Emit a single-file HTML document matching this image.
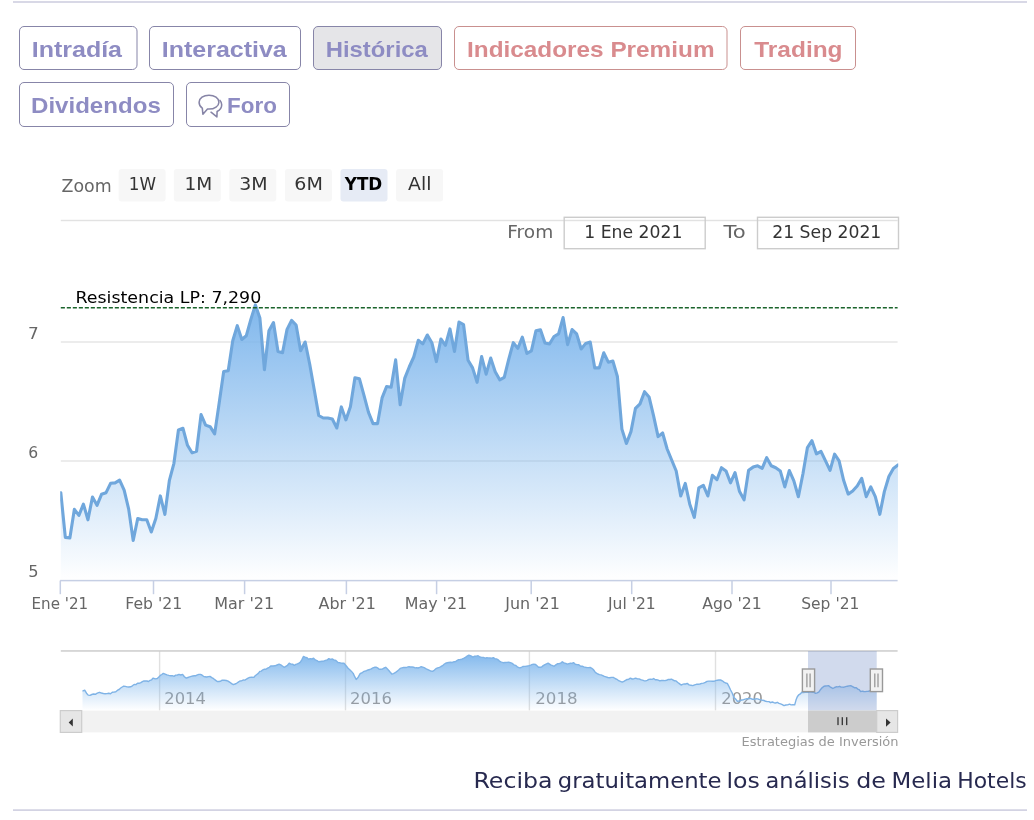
<!DOCTYPE html>
<html lang="es"><head><meta charset="utf-8"><title>Melia Hotels - Histórica</title>
<style>
html,body{margin:0;padding:0;background:#fff;}
body{width:1034px;height:820px;overflow:hidden;font-family:"Liberation Sans",sans-serif;}
svg{display:block;}
.pb{font-family:"Liberation Sans",sans-serif;font-weight:700;}
.hc{font-family:"DejaVu Sans","Liberation Sans",sans-serif;}
.pp{font-family:"DejaVu Sans","Liberation Sans",sans-serif;}
</style></head><body>
<svg width="1034" height="820" viewBox="0 0 1034 820">
<defs>
<linearGradient id="ga" gradientUnits="userSpaceOnUse" x1="0" y1="295" x2="0" y2="580.6"><stop offset="0" stop-color="#7cb5ec" stop-opacity="1"/><stop offset="1" stop-color="#7cb5ec" stop-opacity="0"/></linearGradient>
<linearGradient id="gn" gradientUnits="userSpaceOnUse" x1="0" y1="651" x2="0" y2="710.5"><stop offset="0" stop-color="#7cb5ec" stop-opacity="1"/><stop offset="1" stop-color="#7cb5ec" stop-opacity="0"/></linearGradient>
<clipPath id="cp"><rect x="60.199999999999996" y="262" width="838" height="318.6"/></clipPath>
</defs>
<rect x="0" y="0" width="1034" height="820" fill="#ffffff"/>
<rect x="13" y="1.2" width="1014" height="1.6" fill="#cfcfe0"/>
<rect x="13" y="809.3" width="1014" height="1.6" fill="#cfcfe0"/>
<rect x="19.5" y="26.5" width="117.5" height="43" rx="4.5" ry="4.5" fill="#ffffff" stroke="#8785a8" stroke-width="1"/>
<text class="pb" x="31.75" y="56.6" font-size="22.6" font-weight="700" fill="#8e8cc3" textLength="90.28" lengthAdjust="spacingAndGlyphs">Intradía</text>
<rect x="149.5" y="26.5" width="151" height="43" rx="4.5" ry="4.5" fill="#ffffff" stroke="#8785a8" stroke-width="1"/>
<text class="pb" x="161.75" y="56.6" font-size="22.6" font-weight="700" fill="#8e8cc3" textLength="125.02" lengthAdjust="spacingAndGlyphs">Interactiva</text>
<rect x="313.5" y="26.5" width="128" height="43" rx="4.5" ry="4.5" fill="#e5e5e8" stroke="#8785a8" stroke-width="1"/>
<text class="pb" x="325.75" y="56.6" font-size="22.6" font-weight="700" fill="#8e8cc3" textLength="102.02" lengthAdjust="spacingAndGlyphs">Histórica</text>
<rect x="454.5" y="26.5" width="272.5" height="43" rx="4.5" ry="4.5" fill="#ffffff" stroke="#c9908f" stroke-width="1"/>
<text class="pb" x="467" y="56.6" font-size="22.6" font-weight="700" fill="#d98b8e" textLength="247.54" lengthAdjust="spacingAndGlyphs">Indicadores Premium</text>
<rect x="740.5" y="26.5" width="115" height="43" rx="4.5" ry="4.5" fill="#ffffff" stroke="#c9908f" stroke-width="1"/>
<text class="pb" x="754.25" y="56.6" font-size="22.6" font-weight="700" fill="#d98b8e" textLength="88.29" lengthAdjust="spacingAndGlyphs">Trading</text>
<rect x="19.5" y="82.5" width="154" height="44" rx="4.5" ry="4.5" fill="#ffffff" stroke="#8785a8" stroke-width="1"/>
<text class="pb" x="31" y="112.6" font-size="22.6" font-weight="700" fill="#8e8cc3" textLength="129.8" lengthAdjust="spacingAndGlyphs">Dividendos</text>
<rect x="186.5" y="82.5" width="103" height="44" rx="4.5" ry="4.5" fill="#ffffff" stroke="#8785a8" stroke-width="1"/>
<text class="pb" x="227" y="112.6" font-size="22.6" font-weight="700" fill="#8e8cc3" textLength="49.86" lengthAdjust="spacingAndGlyphs">Foro</text>
<g fill="none" stroke="#8684a6" stroke-width="1.55" stroke-linejoin="round" stroke-linecap="round">
<path d="M209 95.2c5.5 0 9.9 3.1 9.9 6.95s-4.4 6.95-9.9 6.95c-.5 0-1 0-1.5-.1l-4.6 5.2-.6-6.1c-2-1.3-3.2-3.5-3.2-5.950c0-3.850 4.4-6.950 9.900-6.950z"/>
<path d="M220 100.400c1.100 1.200 1.700 2.700 1.700 4.300c0 2.900-1.800 5.400-4.600 6.800l-.2 5.400-5.900-4.700"/>
</g>
<g class="hc">
<text x="61.5" y="192" font-size="17.3" fill="#666666" textLength="50.1" lengthAdjust="spacingAndGlyphs">Zoom</text>
<rect x="118.6" y="169" width="47" height="32.5" rx="3" ry="3" fill="#f7f7f7"/>
<text x="128.75" y="189.5" font-size="17.3" fill="#333333" textLength="27.23" lengthAdjust="spacingAndGlyphs">1W</text>
<rect x="173.8" y="169" width="47" height="32.5" rx="3" ry="3" fill="#f7f7f7"/>
<text x="184.5" y="189.5" font-size="17.3" fill="#333333" textLength="27.76" lengthAdjust="spacingAndGlyphs">1M</text>
<rect x="229.3" y="169" width="47" height="32.5" rx="3" ry="3" fill="#f7f7f7"/>
<text x="239.25" y="189.5" font-size="17.3" fill="#333333" textLength="28.37" lengthAdjust="spacingAndGlyphs">3M</text>
<rect x="284.9" y="169" width="47" height="32.5" rx="3" ry="3" fill="#f7f7f7"/>
<text x="294.25" y="189.5" font-size="17.3" fill="#333333" textLength="28.58" lengthAdjust="spacingAndGlyphs">6M</text>
<rect x="340.5" y="169" width="47" height="32.5" rx="3" ry="3" fill="#e6ebf5"/>
<text x="344.75" y="189.5" font-size="17.3" font-weight="700" fill="#000000" textLength="37.51" lengthAdjust="spacingAndGlyphs">YTD</text>
<rect x="396.1" y="169" width="47" height="32.5" rx="3" ry="3" fill="#f7f7f7"/>
<text x="408" y="189.5" font-size="17.3" fill="#333333" textLength="23.41" lengthAdjust="spacingAndGlyphs">All</text>
<rect x="60.8" y="219.8" width="836.8" height="1.4" fill="#e2e2e2"/>
<text x="507.25" y="237.9" font-size="17.3" fill="#666666" textLength="45.98" lengthAdjust="spacingAndGlyphs">From</text>
<rect x="564.2" y="217.3" width="141" height="31.4" fill="none" stroke="#cccccc" stroke-width="1.4"/>
<text x="584.25" y="237.9" font-size="17.3" fill="#333333" textLength="98.12" lengthAdjust="spacingAndGlyphs">1 Ene 2021</text>
<text x="723.5" y="237.9" font-size="17.3" fill="#666666" textLength="22.3" lengthAdjust="spacingAndGlyphs">To</text>
<rect x="757.5" y="217.3" width="141" height="31.4" fill="none" stroke="#cccccc" stroke-width="1.4"/>
<text x="772.25" y="237.9" font-size="17.3" fill="#333333" textLength="109.07" lengthAdjust="spacingAndGlyphs">21 Sep 2021</text>
<rect x="60.8" y="341.25" width="836.8" height="1.5" fill="#e6e6e6"/>
<rect x="60.8" y="460.25" width="836.8" height="1.5" fill="#e6e6e6"/>
<text x="28" y="338.7" font-size="15.8" fill="#666666" textLength="10.69" lengthAdjust="spacingAndGlyphs">7</text>
<text x="28.25" y="457.7" font-size="15.8" fill="#666666" textLength="9.93" lengthAdjust="spacingAndGlyphs">6</text>
<text x="28.25" y="576.7" font-size="15.8" fill="#666666" textLength="10.35" lengthAdjust="spacingAndGlyphs">5</text>
<g clip-path="url(#cp)">
<path d="M60.8 492.7 L65.33 537.4 L69.85 538 L74.38 509.3 L78.9 515.4 L83.42 504.1 L87.95 519.8 L92.47 497.1 L97 505.3 L101.53 494.3 L106.05 492.7 L110.58 483.3 L115.1 482.9 L119.62 480.2 L124.15 490.2 L128.68 509.1 L133.2 540.5 L137.73 518.5 L142.25 519.8 L146.78 519.8 L151.3 532 L155.82 518.5 L160.35 495.9 L164.88 514.4 L169.4 480.3 L173.93 463.3 L178.45 429.9 L182.98 428.3 L187.5 445.3 L192.03 452.8 L196.55 451.3 L201.07 414.5 L205.6 425.1 L210.12 426.7 L214.65 433.9 L219.18 403 L223.7 371.5 L228.23 370.7 L232.75 340.7 L237.28 325.7 L241.8 339.5 L246.32 335.7 L250.85 319.4 L255.38 304.9 L259.9 318.1 L264.43 369.7 L268.95 330.7 L273.48 322.5 L278 351.4 L282.53 352.7 L287.05 329.4 L291.57 320.4 L296.1 325 L300.62 350.8 L305.15 342 L309.68 364 L314.2 389.4 L318.73 415.5 L323.25 418 L327.78 418 L332.3 419 L336.83 428 L341.35 406.9 L345.88 419.9 L350.4 406.7 L354.93 377.7 L359.45 378.8 L363.98 395.3 L368.5 412.3 L373.03 423.6 L377.55 423.6 L382.08 397.9 L386.6 386.5 L391.13 387.2 L395.65 359.9 L400.18 404.8 L404.7 378.4 L409.23 367 L413.75 357 L418.28 340.3 L422.8 343.9 L427.33 335 L431.85 342.7 L436.38 361.6 L440.9 339 L445.43 345.3 L449.95 328.9 L454.48 351.5 L459 322 L463.53 324.5 L468.05 360.3 L472.58 367.9 L477.1 382.3 L481.63 356.6 L486.15 374.2 L490.68 358.1 L495.2 371.7 L499.73 379.8 L504.25 377.3 L508.78 359.1 L513.3 342.7 L517.83 348.4 L522.35 337.1 L526.88 353.4 L531.4 350.9 L535.93 330.8 L540.45 329.7 L544.98 343 L549.5 344 L554.02 336.5 L558.55 333.9 L563.08 317.6 L567.6 344.6 L572.12 329.5 L576.65 333.9 L581.17 349 L585.7 343.4 L590.23 342.1 L594.75 367.9 L599.27 367.9 L603.8 352.8 L608.33 362.2 L612.85 361 L617.38 376.5 L621.9 429.1 L626.42 443.5 L630.95 431.6 L635.48 408.3 L640 403.9 L644.52 391.7 L649.05 396.9 L653.58 415.9 L658.1 436.6 L662.62 433 L667.15 449 L671.67 460 L676.2 471 L680.73 496 L685.25 483.4 L689.77 504.2 L694.3 517.4 L698.83 487.8 L703.35 485.3 L707.88 496 L712.4 475.3 L716.92 479.7 L721.45 467.7 L725.98 470.9 L730.5 482.8 L735.02 472.7 L739.55 491.6 L744.08 499.8 L748.6 470.2 L753.12 467.1 L757.65 465.8 L762.17 468.3 L766.7 457.7 L771.23 465.8 L775.75 467.7 L780.27 470.9 L784.8 486.9 L789.33 470.5 L793.85 480.9 L798.38 496.7 L802.9 474 L807.43 447.6 L811.95 440.7 L816.48 453.9 L821 451.4 L825.52 460.8 L830.05 470.3 L834.58 454.2 L839.1 460.8 L843.62 480.3 L848.15 494.1 L852.68 491 L857.2 486 L861.73 478.4 L866.25 496.7 L870.77 486.9 L875.3 496.7 L879.83 514.3 L884.35 491.6 L888.88 476.5 L893.4 468.4 L897.93 465 L897.93 580.6 L60.8 580.6 Z" fill="url(#ga)" stroke="none"/>
<path d="M60.8 492.7 L65.33 537.4 L69.85 538 L74.38 509.3 L78.9 515.4 L83.42 504.1 L87.95 519.8 L92.47 497.1 L97 505.3 L101.53 494.3 L106.05 492.7 L110.58 483.3 L115.1 482.9 L119.62 480.2 L124.15 490.2 L128.68 509.1 L133.2 540.5 L137.73 518.5 L142.25 519.8 L146.78 519.8 L151.3 532 L155.82 518.5 L160.35 495.9 L164.88 514.4 L169.4 480.3 L173.93 463.3 L178.45 429.9 L182.98 428.3 L187.5 445.3 L192.03 452.8 L196.55 451.3 L201.07 414.5 L205.6 425.1 L210.12 426.7 L214.65 433.9 L219.18 403 L223.7 371.5 L228.23 370.7 L232.75 340.7 L237.28 325.7 L241.8 339.5 L246.32 335.7 L250.85 319.4 L255.38 304.9 L259.9 318.1 L264.43 369.7 L268.95 330.7 L273.48 322.5 L278 351.4 L282.53 352.7 L287.05 329.4 L291.57 320.4 L296.1 325 L300.62 350.8 L305.15 342 L309.68 364 L314.2 389.4 L318.73 415.5 L323.25 418 L327.78 418 L332.3 419 L336.83 428 L341.35 406.9 L345.88 419.9 L350.4 406.7 L354.93 377.7 L359.45 378.8 L363.98 395.3 L368.5 412.3 L373.03 423.6 L377.55 423.6 L382.08 397.9 L386.6 386.5 L391.13 387.2 L395.65 359.9 L400.18 404.8 L404.7 378.4 L409.23 367 L413.75 357 L418.28 340.3 L422.8 343.9 L427.33 335 L431.85 342.7 L436.38 361.6 L440.9 339 L445.43 345.3 L449.95 328.9 L454.48 351.5 L459 322 L463.53 324.5 L468.05 360.3 L472.58 367.9 L477.1 382.3 L481.63 356.6 L486.15 374.2 L490.68 358.1 L495.2 371.7 L499.73 379.8 L504.25 377.3 L508.78 359.1 L513.3 342.7 L517.83 348.4 L522.35 337.1 L526.88 353.4 L531.4 350.9 L535.93 330.8 L540.45 329.7 L544.98 343 L549.5 344 L554.02 336.5 L558.55 333.9 L563.08 317.6 L567.6 344.6 L572.12 329.5 L576.65 333.9 L581.17 349 L585.7 343.4 L590.23 342.1 L594.75 367.9 L599.27 367.9 L603.8 352.8 L608.33 362.2 L612.85 361 L617.38 376.5 L621.9 429.1 L626.42 443.5 L630.95 431.6 L635.48 408.3 L640 403.9 L644.52 391.7 L649.05 396.9 L653.58 415.9 L658.1 436.6 L662.62 433 L667.15 449 L671.67 460 L676.2 471 L680.73 496 L685.25 483.4 L689.77 504.2 L694.3 517.4 L698.83 487.8 L703.35 485.3 L707.88 496 L712.4 475.3 L716.92 479.7 L721.45 467.7 L725.98 470.9 L730.5 482.8 L735.02 472.7 L739.55 491.6 L744.08 499.8 L748.6 470.2 L753.12 467.1 L757.65 465.8 L762.17 468.3 L766.7 457.7 L771.23 465.8 L775.75 467.7 L780.27 470.9 L784.8 486.9 L789.33 470.5 L793.85 480.9 L798.38 496.7 L802.9 474 L807.43 447.6 L811.95 440.7 L816.48 453.9 L821 451.4 L825.52 460.8 L830.05 470.3 L834.58 454.2 L839.1 460.8 L843.62 480.3 L848.15 494.1 L852.68 491 L857.2 486 L861.73 478.4 L866.25 496.7 L870.77 486.9 L875.3 496.7 L879.83 514.3 L884.35 491.6 L888.88 476.5 L893.4 468.4 L897.93 465" fill="none" stroke="#70a7dc" stroke-width="3.1" stroke-linejoin="round" stroke-linecap="round"/>
</g>
<path d="M60.8 307.8H897.6" stroke="#1b642c" stroke-width="1.5" stroke-dasharray="4.1 1.9" fill="none"/>
<text x="75.5" y="302.6" font-size="16.4" fill="#000000" textLength="185.79" lengthAdjust="spacingAndGlyphs">Resistencia LP: 7,290</text>
<rect x="60.099999999999994" y="579.85" width="837.5" height="1.5" fill="#c6cfe4"/>
<rect x="59.55" y="580.6" width="1.5" height="13.6" fill="#c6cfe4"/>
<text x="31.5" y="609.4" font-size="15.8" fill="#666666" textLength="56.64" lengthAdjust="spacingAndGlyphs">Ene '21</text>
<rect x="152.75" y="580.6" width="1.5" height="13.6" fill="#c6cfe4"/>
<text x="125.25" y="609.4" font-size="15.8" fill="#666666" textLength="56.91" lengthAdjust="spacingAndGlyphs">Feb '21</text>
<rect x="243.85" y="580.6" width="1.5" height="13.6" fill="#c6cfe4"/>
<text x="214.25" y="609.4" font-size="15.8" fill="#666666" textLength="59.9" lengthAdjust="spacingAndGlyphs">Mar '21</text>
<rect x="345.65" y="580.6" width="1.5" height="13.6" fill="#c6cfe4"/>
<text x="318.5" y="609.4" font-size="15.8" fill="#666666" textLength="57.29" lengthAdjust="spacingAndGlyphs">Abr '21</text>
<rect x="435.85" y="580.6" width="1.5" height="13.6" fill="#c6cfe4"/>
<text x="404.75" y="609.4" font-size="15.8" fill="#666666" textLength="62.4" lengthAdjust="spacingAndGlyphs">May '21</text>
<rect x="530.45" y="580.6" width="1.5" height="13.6" fill="#c6cfe4"/>
<text x="505.25" y="609.4" font-size="15.8" fill="#666666" textLength="54.51" lengthAdjust="spacingAndGlyphs">Jun '21</text>
<rect x="630.95" y="580.6" width="1.5" height="13.6" fill="#c6cfe4"/>
<text x="608" y="609.4" font-size="15.8" fill="#666666" textLength="47.76" lengthAdjust="spacingAndGlyphs">Jul '21</text>
<rect x="731.25" y="580.6" width="1.5" height="13.6" fill="#c6cfe4"/>
<text x="702.25" y="609.4" font-size="15.8" fill="#666666" textLength="59.54" lengthAdjust="spacingAndGlyphs">Ago '21</text>
<rect x="830.25" y="580.6" width="1.5" height="13.6" fill="#c6cfe4"/>
<text x="801.25" y="609.4" font-size="15.8" fill="#666666" textLength="58.11" lengthAdjust="spacingAndGlyphs">Sep '21</text>
<rect x="158.9" y="651" width="1.4" height="59.5" fill="#e0e0e0"/>
<text x="164.25" y="704.4" font-size="15.6" fill="#999999" textLength="41.61" lengthAdjust="spacingAndGlyphs">2014</text>
<rect x="344.8" y="651" width="1.4" height="59.5" fill="#e0e0e0"/>
<text x="350" y="704.4" font-size="15.6" fill="#999999" textLength="41.87" lengthAdjust="spacingAndGlyphs">2016</text>
<rect x="528.7" y="651" width="1.4" height="59.5" fill="#e0e0e0"/>
<text x="535.25" y="704.4" font-size="15.6" fill="#999999" textLength="42.37" lengthAdjust="spacingAndGlyphs">2018</text>
<rect x="714.8" y="651" width="1.4" height="59.5" fill="#e0e0e0"/>
<text x="721.25" y="704.4" font-size="15.6" fill="#999999" textLength="41.62" lengthAdjust="spacingAndGlyphs">2020</text>
<path d="M82.5 691.1 L84.7 690.2 L86.5 693.2 L88.2 695.1 L90 695.4 L91.8 694.5 L93.5 694 L95.3 694.3 L97.3 693.1 L99.4 692.3 L101.4 693 L103.4 693.5 L105.2 693.7 L107 693.6 L108.7 693.3 L110.5 693.7 L112.3 692.3 L114 692.1 L115.8 691.8 L117.6 690.2 L119.1 689.5 L120.7 688 L122.2 687 L123.7 686.2 L125.4 686.4 L127.1 686.9 L128.8 687 L130.6 686.8 L132.4 685.8 L134.1 684.5 L135.9 684.6 L137.5 683.3 L139.1 683.3 L140.8 682.7 L142.4 681.7 L144 680.9 L145.5 681 L147 681 L148.5 681.5 L150.1 680.3 L151.6 679.8 L153.2 678.1 L155.2 678.9 L157.3 678.5 L158.8 677.1 L160.3 675.4 L161.8 674.5 L163.3 673.4 L165.1 674.1 L167 674.9 L168.8 675.4 L170.6 675.8 L172.3 675.7 L174.1 676.4 L175.7 675.1 L177.4 675 L179 674.4 L180.8 675 L182.6 674.4 L184.4 676.7 L186.3 678.1 L187.9 677.5 L189.6 676.9 L191.2 676.4 L192.8 676 L194.3 675.8 L195.9 675.7 L197.4 674.9 L198.9 674.4 L200.4 674.4 L201.9 675 L203.5 676.3 L205 676.8 L206.7 677 L208.3 676.6 L210 676.4 L211.8 677.6 L213.6 678.7 L215.4 680.1 L217.2 681.5 L218.9 681.5 L220.5 681.3 L222.2 680.1 L224.2 680.3 L226.3 680.5 L228.1 681.1 L229.9 682.3 L231.6 683.6 L233.4 684.6 L235 684 L236.6 683.3 L238.3 682.1 L239.9 681 L241.5 680.9 L243.1 680 L244.8 680.1 L246.4 679.2 L248.1 678.1 L249.7 677.4 L251.7 677.2 L253.7 677.4 L255.2 675.8 L256.8 674.5 L258.3 673.4 L259.8 671.4 L261.3 671.1 L262.9 669.8 L264.4 669.2 L265.9 669.3 L267.6 668.1 L269.3 667.3 L271 665.9 L273 666 L275 665.8 L277.1 665 L279.1 664.2 L280.8 664.9 L282.4 666 L284.1 667.3 L285.8 666.3 L287.5 665.3 L289.2 663.2 L290.9 664.1 L292.6 664.2 L294.3 665.3 L295.8 664.3 L297.4 663.8 L298.9 663.1 L300.4 662.2 L301.9 659.5 L303.4 656.5 L305.1 657.2 L306.8 657.6 L308.5 659.2 L310.2 658.6 L311.9 659 L313.6 658.2 L315.3 659.9 L317 660.6 L318.7 661.8 L320.4 661.5 L322 661.3 L323.7 661.2 L325.4 660.4 L327.1 660 L328.8 658.6 L330.5 659.4 L332.2 659 L333.9 659.8 L335.9 660.5 L338 662.6 L339.5 662.6 L341 663.1 L342.5 663.2 L344 663.2 L346.1 665.7 L348.1 668.3 L349.8 669.7 L351.5 671.4 L353.2 673.4 L354.7 676.7 L356.2 679.5 L358.2 677.2 L360.3 673.4 L361.8 673 L363.4 671.7 L364.9 671.1 L366.4 670.7 L368 670 L369.6 669.5 L371.3 668.9 L372.9 667.9 L374.5 667.3 L376 667.1 L377.6 667.9 L379.1 669.2 L380.6 669.3 L382.3 669.1 L384 668 L385.7 667.3 L387.2 668.8 L388.8 670.5 L390.3 672.3 L391.8 674 L393.5 673.6 L395.2 672.7 L396.9 671.4 L398.6 669.9 L400.2 668.4 L401.9 667.9 L403.7 667.4 L405.4 667.5 L407.2 667.2 L409 666.7 L410.5 667 L412.1 667 L413.6 667.2 L415.1 667.9 L416.6 667.8 L418.1 668 L419.7 667.4 L421.2 666.7 L422.7 667.1 L424.2 667.7 L425.8 668.6 L427.3 669.3 L429 670.1 L430.7 671 L432.4 671.4 L434.2 670.3 L435.9 668.7 L437.7 667.8 L439.5 667.3 L441 666.5 L442.6 665.7 L444.1 664.3 L445.6 663.2 L447.2 662.8 L448.8 662.5 L450.5 662.3 L452.1 662.5 L453.7 661.8 L455.3 661.8 L456.9 660.6 L458.6 659.6 L460.2 659.5 L461.8 659.2 L463.6 658.3 L465.4 657.3 L467.1 656.2 L468.9 655.1 L470.9 655.8 L473 657.1 L474.7 656.2 L476.4 656.2 L478.1 655.7 L479.9 657 L481.6 657.4 L483.4 657.4 L485.2 658.2 L486.8 657.8 L488.4 657.9 L490.1 658 L491.7 658.1 L493.3 657.7 L494.9 658.7 L496.5 658.9 L498.2 659.8 L499.8 661.4 L501.4 662.2 L503.2 662.7 L505 662.5 L506.9 662.4 L508.7 662.3 L510.5 662.6 L512.2 663.4 L513.9 664.8 L515.6 665.3 L517.7 667.2 L519.7 667.9 L521.2 667.5 L522.8 666.5 L524.3 666.4 L525.8 666.3 L527.4 666 L529 665.6 L530.7 665.1 L532.3 664.4 L533.9 664.2 L535.4 664.4 L537 665.7 L538.5 667.2 L540 667.3 L541.6 667 L543.2 665.6 L544.9 664.6 L546.5 663.9 L548.1 663.2 L549.6 664.1 L551.2 665.1 L552.7 665.7 L554.2 666.3 L555.8 664.9 L557.4 663.8 L559.1 663.6 L560.7 663.1 L562.3 661.8 L564 662.8 L565.7 663.3 L567.4 664.2 L568.9 663.6 L570.5 663.2 L572 663.4 L573.5 662.6 L575.3 664.2 L577 664.6 L578.8 664.8 L580.6 666.3 L582.2 666.2 L583.8 666.9 L585.4 667.3 L587 667.6 L588.6 667.6 L590.2 667.4 L591.8 668.3 L593.3 669.5 L594.8 671.7 L596.4 673.1 L597.9 674 L599.5 674.6 L601.1 674.9 L602.8 675.6 L604.4 676.3 L606 676.8 L607.8 677.5 L609.6 677.8 L611.5 677.4 L613.3 677.4 L615.1 678.5 L616.9 679.3 L618.7 680.7 L620.4 681.4 L622.2 682.1 L623.8 681.3 L625.5 680.3 L627.1 679.5 L628.8 679.2 L630.4 678.1 L632.2 679 L634 678.7 L635.7 678.2 L637.5 678.9 L639.1 678.9 L640.7 679.7 L642.4 680.2 L644 680.7 L645.6 680.9 L647.2 680.3 L648.8 679.4 L650.5 679.1 L652.1 679.4 L653.7 678.5 L655.2 679.7 L656.8 679.8 L658.3 680.1 L659.8 680.9 L661.5 680.5 L663.2 680.5 L664.9 680.6 L666.6 680.3 L668.3 679.4 L670 679.5 L671.5 679.1 L673 680 L674.6 680.8 L676.1 680.9 L677.8 682.5 L679.4 683.6 L681.1 685 L682.6 684.4 L684.2 683.9 L685.7 684 L687.2 683.4 L689.1 684.9 L690.9 685.2 L692.8 685.6 L694.6 684.8 L696.4 684.3 L698.1 684.2 L699.9 684 L701.7 683.4 L703.5 683.1 L705.3 682.4 L707 681.4 L708.8 681.1 L710.6 681.1 L712.3 681.2 L713.9 681.3 L715.6 680.7 L717.3 680.2 L718.9 680 L720.6 680 L722.3 680.8 L724 682.1 L725.6 683 L727.3 683.4 L729 686.5 L730.6 690 L732.2 693 L733.9 697.4 L735.6 699 L737.3 701.2 L738.8 701 L740.2 700.6 L741.7 700 L743.5 699.7 L745.3 699.1 L747 698.6 L748.8 698.7 L750.6 698.3 L752.4 699.3 L754.2 699.3 L755.9 698.8 L757.7 698.9 L759.5 699.6 L761 699.8 L762.5 700.3 L764 700.5 L765.6 701.3 L767.3 701.6 L769 701.6 L770.6 702.7 L772.3 702 L774 702.7 L775.6 703 L777.3 702.3 L779 703.3 L780.6 703.8 L782.3 704.6 L784 705.6 L785.8 705 L787.7 704.9 L789.5 704.1 L791.2 704.9 L793 704.6 L794.7 704.9 L796 700.1 L797.3 696.7 L798.8 694.8 L800.3 693.9 L801.8 692.3 L803.5 692.5 L805.1 692.4 L806.8 692.1 L808.5 692.3 L810.3 691.9 L812.2 692.3 L814 692.3 L815.6 693.3 L817.3 692.9 L819 691.8 L820.6 689.4 L822.3 687.6 L824 686.3 L825.5 686 L827 685.9 L828.5 685.6 L830 686.8 L831.4 687.6 L832.9 688.5 L834.6 687.5 L836.2 686.8 L837.9 686.9 L839.6 686.3 L841.1 687.1 L842.5 687.1 L844 687.2 L845.7 686.7 L847.4 686.2 L849 685.9 L850.7 685.6 L852.6 686.6 L854.4 687.7 L856.3 687.8 L857.8 689.1 L859.2 689.7 L860.7 691.6 L862.3 691.1 L863.8 691.5 L865.4 691.6 L866.9 691.4 L868.5 691.2 L870.1 690.8 L871.8 690.3 L873.4 690.3 L875.1 690.8 L876.7 690 L876.7 710.5 L82.5 710.5 Z" fill="url(#gn)" stroke="none"/>
<path d="M82.5 691.1 L84.7 690.2 L86.5 693.2 L88.2 695.1 L90 695.4 L91.8 694.5 L93.5 694 L95.3 694.3 L97.3 693.1 L99.4 692.3 L101.4 693 L103.4 693.5 L105.2 693.7 L107 693.6 L108.7 693.3 L110.5 693.7 L112.3 692.3 L114 692.1 L115.8 691.8 L117.6 690.2 L119.1 689.5 L120.7 688 L122.2 687 L123.7 686.2 L125.4 686.4 L127.1 686.9 L128.8 687 L130.6 686.8 L132.4 685.8 L134.1 684.5 L135.9 684.6 L137.5 683.3 L139.1 683.3 L140.8 682.7 L142.4 681.7 L144 680.9 L145.5 681 L147 681 L148.5 681.5 L150.1 680.3 L151.6 679.8 L153.2 678.1 L155.2 678.9 L157.3 678.5 L158.8 677.1 L160.3 675.4 L161.8 674.5 L163.3 673.4 L165.1 674.1 L167 674.9 L168.8 675.4 L170.6 675.8 L172.3 675.7 L174.1 676.4 L175.7 675.1 L177.4 675 L179 674.4 L180.8 675 L182.6 674.4 L184.4 676.7 L186.3 678.1 L187.9 677.5 L189.6 676.9 L191.2 676.4 L192.8 676 L194.3 675.8 L195.9 675.7 L197.4 674.9 L198.9 674.4 L200.4 674.4 L201.9 675 L203.5 676.3 L205 676.8 L206.7 677 L208.3 676.6 L210 676.4 L211.8 677.6 L213.6 678.7 L215.4 680.1 L217.2 681.5 L218.9 681.5 L220.5 681.3 L222.2 680.1 L224.2 680.3 L226.3 680.5 L228.1 681.1 L229.9 682.3 L231.6 683.6 L233.4 684.6 L235 684 L236.6 683.3 L238.3 682.1 L239.9 681 L241.5 680.9 L243.1 680 L244.8 680.1 L246.4 679.2 L248.1 678.1 L249.7 677.4 L251.7 677.2 L253.7 677.4 L255.2 675.8 L256.8 674.5 L258.3 673.4 L259.8 671.4 L261.3 671.1 L262.9 669.8 L264.4 669.2 L265.9 669.3 L267.6 668.1 L269.3 667.3 L271 665.9 L273 666 L275 665.8 L277.1 665 L279.1 664.2 L280.8 664.9 L282.4 666 L284.1 667.3 L285.8 666.3 L287.5 665.3 L289.2 663.2 L290.9 664.1 L292.6 664.2 L294.3 665.3 L295.8 664.3 L297.4 663.8 L298.9 663.1 L300.4 662.2 L301.9 659.5 L303.4 656.5 L305.1 657.2 L306.8 657.6 L308.5 659.2 L310.2 658.6 L311.9 659 L313.6 658.2 L315.3 659.9 L317 660.6 L318.7 661.8 L320.4 661.5 L322 661.3 L323.7 661.2 L325.4 660.4 L327.1 660 L328.8 658.6 L330.5 659.4 L332.2 659 L333.9 659.8 L335.9 660.5 L338 662.6 L339.5 662.6 L341 663.1 L342.5 663.2 L344 663.2 L346.1 665.7 L348.1 668.3 L349.8 669.7 L351.5 671.4 L353.2 673.4 L354.7 676.7 L356.2 679.5 L358.2 677.2 L360.3 673.4 L361.8 673 L363.4 671.7 L364.9 671.1 L366.4 670.7 L368 670 L369.6 669.5 L371.3 668.9 L372.9 667.9 L374.5 667.3 L376 667.1 L377.6 667.9 L379.1 669.2 L380.6 669.3 L382.3 669.1 L384 668 L385.7 667.3 L387.2 668.8 L388.8 670.5 L390.3 672.3 L391.8 674 L393.5 673.6 L395.2 672.7 L396.9 671.4 L398.6 669.9 L400.2 668.4 L401.9 667.9 L403.7 667.4 L405.4 667.5 L407.2 667.2 L409 666.7 L410.5 667 L412.1 667 L413.6 667.2 L415.1 667.9 L416.6 667.8 L418.1 668 L419.7 667.4 L421.2 666.7 L422.7 667.1 L424.2 667.7 L425.8 668.6 L427.3 669.3 L429 670.1 L430.7 671 L432.4 671.4 L434.2 670.3 L435.9 668.7 L437.7 667.8 L439.5 667.3 L441 666.5 L442.6 665.7 L444.1 664.3 L445.6 663.2 L447.2 662.8 L448.8 662.5 L450.5 662.3 L452.1 662.5 L453.7 661.8 L455.3 661.8 L456.9 660.6 L458.6 659.6 L460.2 659.5 L461.8 659.2 L463.6 658.3 L465.4 657.3 L467.1 656.2 L468.9 655.1 L470.9 655.8 L473 657.1 L474.7 656.2 L476.4 656.2 L478.1 655.7 L479.9 657 L481.6 657.4 L483.4 657.4 L485.2 658.2 L486.8 657.8 L488.4 657.9 L490.1 658 L491.7 658.1 L493.3 657.7 L494.9 658.7 L496.5 658.9 L498.2 659.8 L499.8 661.4 L501.4 662.2 L503.2 662.7 L505 662.5 L506.9 662.4 L508.7 662.3 L510.5 662.6 L512.2 663.4 L513.9 664.8 L515.6 665.3 L517.7 667.2 L519.7 667.9 L521.2 667.5 L522.8 666.5 L524.3 666.4 L525.8 666.3 L527.4 666 L529 665.6 L530.7 665.1 L532.3 664.4 L533.9 664.2 L535.4 664.4 L537 665.7 L538.5 667.2 L540 667.3 L541.6 667 L543.2 665.6 L544.9 664.6 L546.5 663.9 L548.1 663.2 L549.6 664.1 L551.2 665.1 L552.7 665.7 L554.2 666.3 L555.8 664.9 L557.4 663.8 L559.1 663.6 L560.7 663.1 L562.3 661.8 L564 662.8 L565.7 663.3 L567.4 664.2 L568.9 663.6 L570.5 663.2 L572 663.4 L573.5 662.6 L575.3 664.2 L577 664.6 L578.8 664.8 L580.6 666.3 L582.2 666.2 L583.8 666.9 L585.4 667.3 L587 667.6 L588.6 667.6 L590.2 667.4 L591.8 668.3 L593.3 669.5 L594.8 671.7 L596.4 673.1 L597.9 674 L599.5 674.6 L601.1 674.9 L602.8 675.6 L604.4 676.3 L606 676.8 L607.8 677.5 L609.6 677.8 L611.5 677.4 L613.3 677.4 L615.1 678.5 L616.9 679.3 L618.7 680.7 L620.4 681.4 L622.2 682.1 L623.8 681.3 L625.5 680.3 L627.1 679.5 L628.8 679.2 L630.4 678.1 L632.2 679 L634 678.7 L635.7 678.2 L637.5 678.9 L639.1 678.9 L640.7 679.7 L642.4 680.2 L644 680.7 L645.6 680.9 L647.2 680.3 L648.8 679.4 L650.5 679.1 L652.1 679.4 L653.7 678.5 L655.2 679.7 L656.8 679.8 L658.3 680.1 L659.8 680.9 L661.5 680.5 L663.2 680.5 L664.9 680.6 L666.6 680.3 L668.3 679.4 L670 679.5 L671.5 679.1 L673 680 L674.6 680.8 L676.1 680.9 L677.8 682.5 L679.4 683.6 L681.1 685 L682.6 684.4 L684.2 683.9 L685.7 684 L687.2 683.4 L689.1 684.9 L690.9 685.2 L692.8 685.6 L694.6 684.8 L696.4 684.3 L698.1 684.2 L699.9 684 L701.7 683.4 L703.5 683.1 L705.3 682.4 L707 681.4 L708.8 681.1 L710.6 681.1 L712.3 681.2 L713.9 681.3 L715.6 680.7 L717.3 680.2 L718.9 680 L720.6 680 L722.3 680.8 L724 682.1 L725.6 683 L727.3 683.4 L729 686.5 L730.6 690 L732.2 693 L733.9 697.4 L735.6 699 L737.3 701.2 L738.8 701 L740.2 700.6 L741.7 700 L743.5 699.7 L745.3 699.1 L747 698.6 L748.8 698.7 L750.6 698.3 L752.4 699.3 L754.2 699.3 L755.9 698.8 L757.7 698.9 L759.5 699.6 L761 699.8 L762.5 700.3 L764 700.5 L765.6 701.3 L767.3 701.6 L769 701.6 L770.6 702.7 L772.3 702 L774 702.7 L775.6 703 L777.3 702.3 L779 703.3 L780.6 703.8 L782.3 704.6 L784 705.6 L785.8 705 L787.7 704.9 L789.5 704.1 L791.2 704.9 L793 704.6 L794.7 704.9 L796 700.1 L797.3 696.7 L798.8 694.8 L800.3 693.9 L801.8 692.3 L803.5 692.5 L805.1 692.4 L806.8 692.1 L808.5 692.3 L810.3 691.9 L812.2 692.3 L814 692.3 L815.6 693.3 L817.3 692.9 L819 691.8 L820.6 689.4 L822.3 687.6 L824 686.3 L825.5 686 L827 685.9 L828.5 685.6 L830 686.8 L831.4 687.6 L832.9 688.5 L834.6 687.5 L836.2 686.8 L837.9 686.9 L839.6 686.3 L841.1 687.1 L842.5 687.1 L844 687.2 L845.7 686.7 L847.4 686.2 L849 685.9 L850.7 685.6 L852.6 686.6 L854.4 687.7 L856.3 687.8 L857.8 689.1 L859.2 689.7 L860.7 691.6 L862.3 691.1 L863.8 691.5 L865.4 691.6 L866.9 691.4 L868.5 691.2 L870.1 690.8 L871.8 690.3 L873.4 690.3 L875.1 690.8 L876.7 690" fill="none" stroke="#7fb3e6" stroke-width="1.4" stroke-linejoin="round"/>
<rect x="60.8" y="650.2" width="836.8" height="1.5" fill="#cccccc"/>
<rect x="808" y="651" width="68.7" height="60" fill="#6685c2" fill-opacity="0.3"/>
<rect x="60.8" y="710.6" width="836.8" height="21.8" fill="#f2f2f2"/>
<rect x="808" y="710.6" width="68.7" height="21.8" fill="#cccccc"/>
<rect x="837.35" y="717.2" width="1.3" height="7.9" fill="#333333"/>
<rect x="841.65" y="717.2" width="1.3" height="7.9" fill="#333333"/>
<rect x="846.0500000000001" y="717.2" width="1.3" height="7.9" fill="#333333"/>
<rect x="60.3" y="710.6" width="21.4" height="21.8" fill="#e6e6e6" stroke="#cccccc" stroke-width="1.2"/>
<path d="M68.7 722.5L72.800 718.400V726.600Z" fill="#333333"/>
<rect x="876.7" y="710.6" width="20.9" height="21.8" fill="#e6e6e6" stroke="#cccccc" stroke-width="1.2"/>
<path d="M890.6 722.6L886 718.500V726.700Z" fill="#333333"/>
<rect x="802.4" y="669" width="12.2" height="22.6" fill="#f2f2f2" stroke="#999999" stroke-width="1.4"/>
<path d="M806.9 673.4V687.2M810.1 673.4V687.2" stroke="#999999" stroke-width="1.3" fill="none"/>
<rect x="870.3" y="669" width="12.2" height="22.6" fill="#f2f2f2" stroke="#999999" stroke-width="1.4"/>
<path d="M874.8 673.4V687.2M878 673.4V687.2" stroke="#999999" stroke-width="1.3" fill="none"/>
<text x="741.5" y="746.3" font-size="13" fill="#999999" textLength="157.04" lengthAdjust="spacingAndGlyphs">Estrategias de Inversión</text>
</g>
<text class="pp" y="788.4" font-size="21.5" fill="#27294f" xml:space="preserve"><tspan x="473.5" textLength="79.01" lengthAdjust="spacingAndGlyphs">Reciba</tspan> <tspan x="557.75" textLength="163.79" lengthAdjust="spacingAndGlyphs">gratuitamente</tspan> <tspan x="726.5" textLength="33.37" lengthAdjust="spacingAndGlyphs">los</tspan> <tspan x="765.5" textLength="84.32" lengthAdjust="spacingAndGlyphs">análisis</tspan> <tspan x="856.25" textLength="29.73" lengthAdjust="spacingAndGlyphs">de</tspan> <tspan x="891.5" textLength="60.56" lengthAdjust="spacingAndGlyphs">Melia</tspan> <tspan x="957.25" textLength="69.39" lengthAdjust="spacingAndGlyphs">Hotels</tspan></text>
</svg>
</body></html>
